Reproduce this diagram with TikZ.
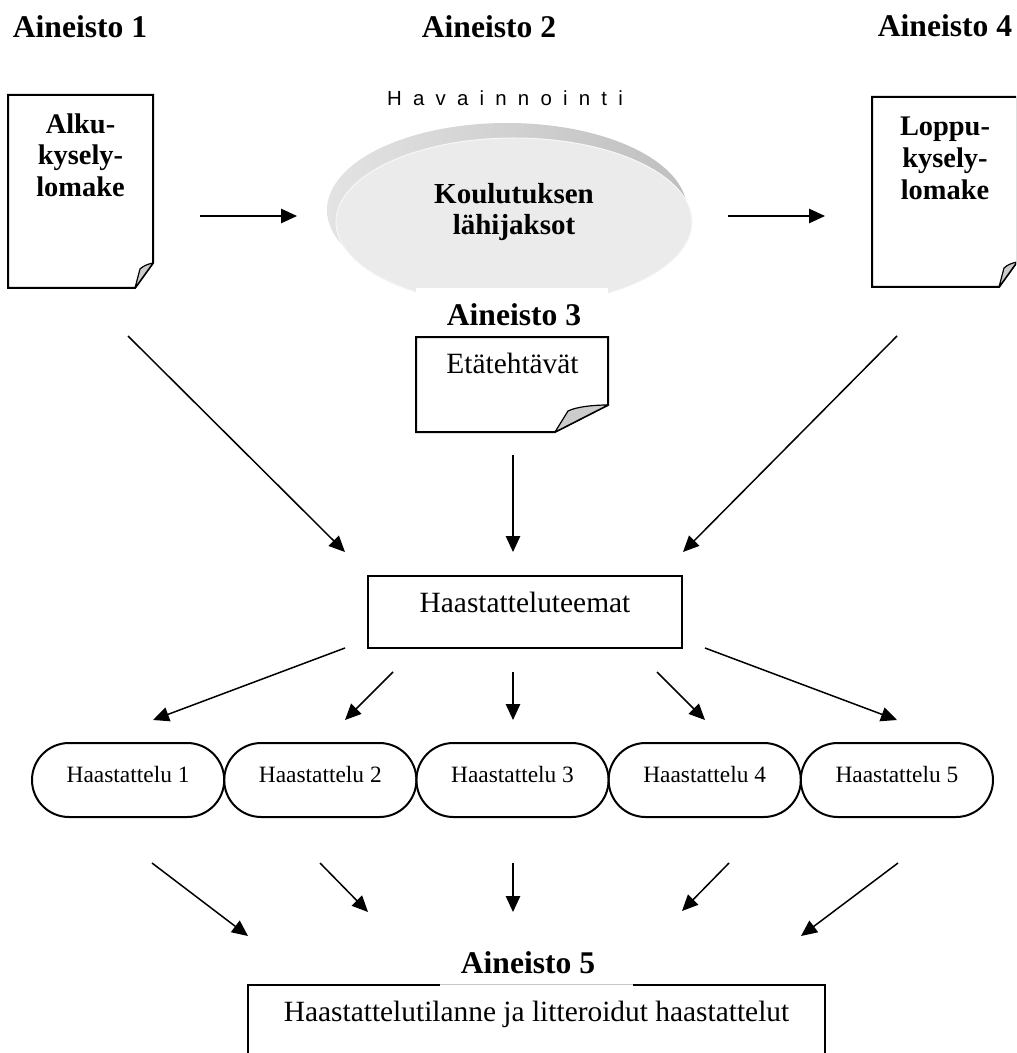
\documentclass[tikz,border=0pt]{standalone}
\usepackage{fontspec}
\setmainfont{Liberation Serif}
\newfontfamily\havfont[LetterSpace=55]{Liberation Sans}
\usetikzlibrary{arrows.meta}
\begin{document}
\begin{tikzpicture}[x=0.5pt,y=-0.5pt,
  arr/.style={-{Triangle[length=8pt,width=7.2pt]}, line width=0.75pt},
  docline/.style={line width=1pt, line join=miter, fill=white},
  fold/.style={fill=gray!40, draw=black, line width=0.6pt, line join=round},
  head/.style={font=\fontsize{15.8}{18}\selectfont\bfseries, inner sep=0pt, anchor=base},
  doctext/.style={font=\fontsize{14.2}{15.8}\selectfont\bfseries, align=center, inner sep=0pt, anchor=north},
  plain/.style={font=\fontsize{14.7}{17}\selectfont},
  stad/.style={draw, line width=1pt, rounded corners=18.5pt, minimum width=96.1pt, minimum height=37pt, inner sep=0pt, font=\fontsize{11.7}{14}\selectfont, text height=7.7pt, text depth=5.7pt}
]
\useasboundingbox (0,0) rectangle (1016,1053);
\clip (0,0) rectangle (1016,1053);

% headings
\node[head] (a1) at (80,38) {Aineisto 1};
\node[head] (a2) at (489,38) {Aineisto 2};
\node[head] (a4) at (945,37) {Aineisto 4};

% left document
\draw[docline] (8,95) -- (153,95) -- (153,263) -- (135,288) -- (8,288) -- cycle;
\filldraw[fold] (153,263) .. controls (148,264) and (143,266) .. (140,269) -- (135,288) -- cycle;
\node[doctext] (alku) at (80.5,113) {Alku-\\kysely-\\lomake};

% right document
\draw[docline] (872,97) -- (1017,97) -- (1017,262) -- (999,287) -- (872,287) -- cycle;
\filldraw[fold] (1017,262) .. controls (1012,263) and (1007,265) .. (1004,268) -- (999,287) -- cycle;
\node[doctext] (loppu) at (945,117) {Loppu-\\kysely-\\lomake};

% Havainnointi
\node[font=\havfont\fontsize{10.2}{12}\selectfont, anchor=base, inner sep=0pt] (hav) at (505,106) {Havainnointi};

% ellipse (disc)
\shade[left color=gray!22, right color=gray!50] (507,210) ellipse [x radius=90pt, y radius=43.5pt];
\fill[gray!16] (514,222) ellipse [x radius=89pt, y radius=42pt];
\draw[gray!6, line width=0.5pt] (514,222) ellipse [x radius=89pt, y radius=42pt];
\node[doctext, font=\fontsize{14.5}{15.5}\selectfont\bfseries] (lahi) at (514,183) {Koulutuksen\\lähijaksot};

% Aineisto 3 and Etätehtävät
\fill[white] (416,288) rectangle (608,337);
\node[head] (a3) at (514,325) {Aineisto 3};
\draw[docline] (416,337) -- (608,337) -- (608,405) -- (555,432) -- (416,432) -- cycle;
\filldraw[fold] (608,405) .. controls (592,405) and (576,407) .. (568,411) -- (555,432) -- cycle;
\node[plain, anchor=base, inner sep=0pt] (eta) at (512.5,373) {Etätehtävät};

% Haastatteluteemat
\node[draw, line width=1pt, minimum width=157pt, minimum height=36pt, plain, text height=10pt, text depth=10pt, inner sep=0pt] (ht) at (525,612) {Haastatteluteemat};

% interviews
\node[stad] (h1) at (128.1,780) {Haastattelu 1};
\node[stad] (h2) at (320.3,780) {Haastattelu 2};
\node[stad] (h3) at (512.5,780) {Haastattelu 3};
\node[stad] (h4) at (704.7,780) {Haastattelu 4};
\node[stad] (h5) at (896.9,780) {Haastattelu 5};

% final box
\node[draw, line width=1pt, anchor=north, minimum width=288.5pt, plain, inner xsep=0pt, inner ysep=6pt, text height=12pt, text depth=45pt] (fin) at (536.5,984) {Haastattelutilanne ja litteroidut haastattelut};
\fill[white] (440,940) rectangle (633,986);
\draw[gray!45, line width=0.4pt] (440,984.5) -- (633,984.5);
\node[head] (a5) at (528,973) {Aineisto 5};

% arrow end points
\coordinate (p1s) at (200,216); \coordinate (p1e) at (297,216);
\coordinate (p2s) at (728,216); \coordinate (p2e) at (825,216);
\coordinate (d1s) at (128,336); \coordinate (d1e) at (345,552);
\coordinate (d2s) at (513,455); \coordinate (d2e) at (513,552);
\coordinate (d3s) at (897,336); \coordinate (d3e) at (683,552);
\coordinate (t1s) at (345,648); \coordinate (t1e) at (153,720);
\coordinate (t2s) at (393,672); \coordinate (t2e) at (345,720);
\coordinate (t3s) at (513,672); \coordinate (t3e) at (513,720);
\coordinate (t4s) at (657,672); \coordinate (t4e) at (705,720);
\coordinate (t5s) at (705,648); \coordinate (t5e) at (897,720);
\coordinate (b1s) at (152,863); \coordinate (b1e) at (248,936);
\coordinate (b2s) at (320,863); \coordinate (b2e) at (368,912);
\coordinate (b3s) at (513,863); \coordinate (b3e) at (513,912);
\coordinate (b4s) at (729,863); \coordinate (b4e) at (682,911);
\coordinate (b5s) at (898,863); \coordinate (b5e) at (801,936);

\foreach \s/\e in {p1s/p1e,p2s/p2e,d1s/d1e,d2s/d2e,d3s/d3e,t1s/t1e,t2s/t2e,t3s/t3e,t4s/t4e,t5s/t5e,b1s/b1e,b2s/b2e,b3s/b3e,b4s/b4e,b5s/b5e}
  \draw[arr] (\s) -- (\e);
\end{tikzpicture}
\end{document}
